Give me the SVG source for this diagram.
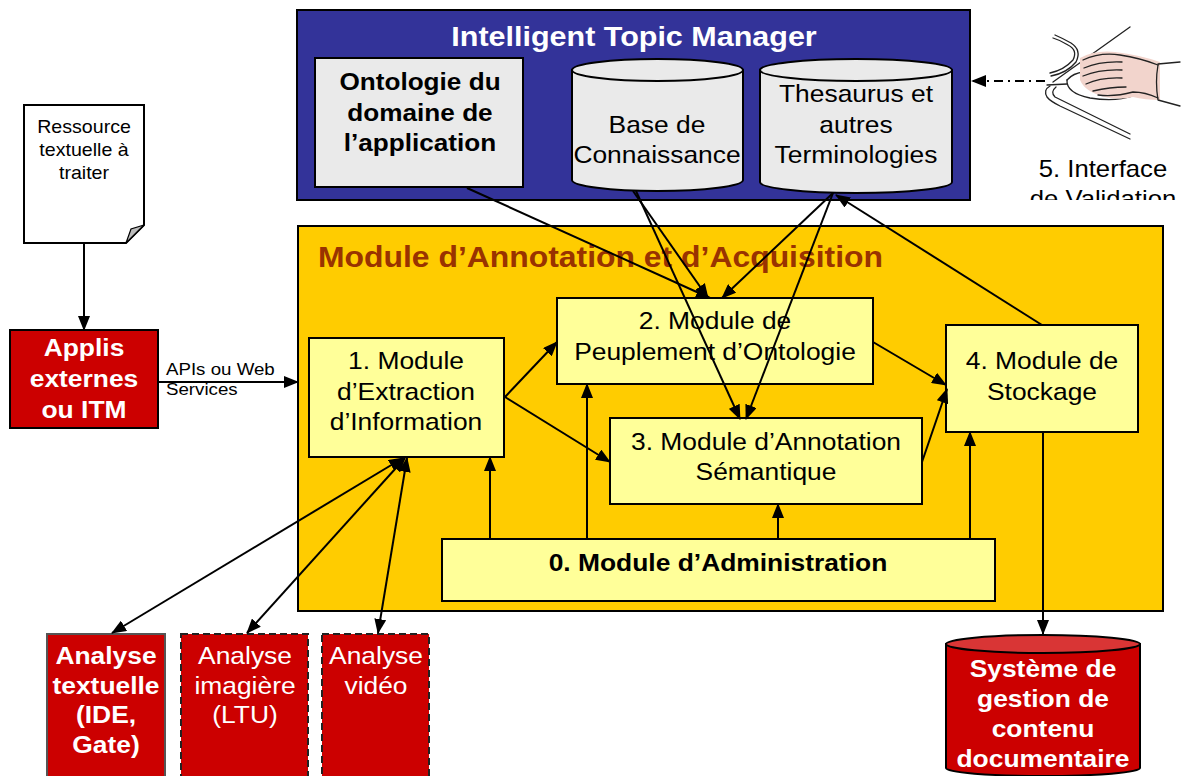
<svg xmlns="http://www.w3.org/2000/svg" width="1185" height="776" viewBox="0 0 1185 776">
  <style>
    text { font-family: "Liberation Sans", Arial, Helvetica, sans-serif; text-anchor: middle; }
    .t24 { font-size: 24px; fill: #000; }
    .b24 { font-size: 24px; font-weight: bold; fill: #000; }
    .w24 { font-size: 24px; font-weight: bold; fill: #fff; }
    .wn24 { font-size: 24px; fill: #fff; }
    .s18 { font-size: 18px; fill: #000; }
    .mod { fill: #ffff99; stroke: #000; stroke-width: 2; }
    .grey { fill: #eaeaea; stroke: #000; stroke-width: 2; }
    .red { fill: #cc0000; }
    .dash { fill: #cc0000; stroke: #222; stroke-width: 2; stroke-dasharray: 7 4; }
    .link { fill: none; stroke: #000; stroke-width: 2; }
    .hand { fill: none; stroke: #222; stroke-width: 1.3; stroke-linejoin: round; stroke-linecap: round; }
  </style>
  <defs>
    <marker id="arr" markerUnits="userSpaceOnUse" markerWidth="15" markerHeight="12" refX="14" refY="6" orient="auto">
      <path d="M0,0 L15,6 L0,12 Z" fill="#000"/>
    </marker>
    <marker id="arrStart" markerUnits="userSpaceOnUse" markerWidth="15" markerHeight="12" refX="1" refY="6" orient="auto">
      <path d="M15,0 L0,6 L15,12 Z" fill="#000"/>
    </marker>
    <clipPath id="clipLabel">
      <rect x="980" y="140" width="205" height="60"/>
    </clipPath>
  </defs>

  <rect width="1185" height="776" fill="#fff"/>

  <!-- Intelligent Topic Manager container -->
  <g id="itm">
    <rect x="297" y="10" width="673" height="190" fill="#333399" stroke="#000" stroke-width="2"/>
    <text transform="translate(634 46) scale(1.09 1)" style="font-size:28px;font-weight:bold;fill:#fff">Intelligent Topic Manager</text>
  </g>

  <g id="ontologie">
    <rect class="grey" x="315" y="58" width="208" height="129"/>
    <text class="b24" transform="translate(420 90) scale(1.09 1)"><tspan x="0">Ontologie du</tspan><tspan x="0" dy="31">domaine de</tspan><tspan x="0" dy="30">l’application</tspan></text>
  </g>

  <g id="base-connaissance">
    <path class="grey" d="M572,70 L572,180 A85.5,11 0 0 0 743,180 L743,70 Z"/>
    <ellipse class="grey" cx="657.5" cy="70" rx="85.5" ry="11"/>
    <text class="t24" transform="translate(657 133) scale(1.1 1)"><tspan x="0">Base de</tspan><tspan x="0" dy="30">Connaissance</tspan></text>
  </g>

  <g id="thesaurus">
    <path class="grey" d="M760,70 L760,182 A96,11 0 0 0 952,182 L952,70 Z"/>
    <ellipse class="grey" cx="856" cy="70" rx="96" ry="11"/>
    <text class="t24" transform="translate(856 102) scale(1.1 1)"><tspan x="0">Thesaurus et</tspan><tspan x="0" dy="31">autres</tspan><tspan x="0" dy="30">Terminologies</tspan></text>
  </g>

  <!-- Validation interface: hand resting on a mouse over a mouse pad -->
  <g id="interface-validation">
    <!-- mouse pad -->
    <path class="hand" d="M1053,82 L1130,27"/>
    <path class="hand" d="M1050,86 Q1043,90 1047,97 Q1050,101 1060,106 L1130,139"/>
    <path class="hand" d="M1056,87 Q1050,92 1055,97 L1130,134"/>
    <!-- cable -->
    <path class="hand" d="M1067,84 L1047,85"/>
    <path class="hand" d="M1050,73 Q1064,70 1073,60 Q1078,50 1068,45 Q1060,40 1053,38"/>
    <path class="hand" d="M1051,76 Q1067,73 1076,62 Q1082,50 1071,43 Q1062,38 1055,35"/>
    <!-- mouse -->
    <path class="hand" d="M1067,80 Q1066,93 1090,98 Q1115,102 1133,96"/>
    <path class="hand" d="M1067,80 Q1073,73 1084,72"/>
    <!-- hand -->
    <path d="M1080,58 Q1095,50 1115,52 Q1140,55 1160,62 L1160,100 Q1145,100 1133,97 Q1120,100 1105,97 Q1085,92 1080,80 Z" fill="#f2d4cc"/>
    <path class="hand" d="M1083,60 Q1100,52 1120,55 Q1140,58 1158,65"/>
    <path class="hand" d="M1084,68 Q1100,61 1122,62"/>
    <path class="hand" d="M1083,76 Q1100,69 1122,70"/>
    <path class="hand" d="M1086,84 Q1101,77 1122,78"/>
    <path class="hand" d="M1093,91 Q1110,87 1126,87"/>
    <path class="hand" d="M1098,95 Q1115,97 1133,92 Q1145,92 1158,98"/>
    <path class="hand" d="M1158,65 Q1155,82 1158,100 M1158,64 L1180,62 M1158,100 L1180,106"/>
    <g clip-path="url(#clipLabel)">
      <text class="t24" transform="translate(1103 177) scale(1.07 1)"><tspan x="0">5. Interface</tspan><tspan x="0" dy="30">de Validation</tspan></text>
    </g>
  </g>

  <!-- Annotation and acquisition container -->
  <g id="module-annotation-acquisition">
    <rect x="298" y="226" width="865" height="385" fill="#ffcc00" stroke="#000" stroke-width="2"/>
    <text transform="translate(318 267) scale(1.1 1)" style="font-size:29px;font-weight:bold;fill:#993300;text-anchor:start">Module d’Annotation et d’Acquisition</text>
  </g>

  <g id="module-1">
    <rect class="mod" x="309" y="338" width="195" height="119"/>
    <text class="t24" transform="translate(406 369) scale(1.1 1)"><tspan x="0">1. Module</tspan><tspan x="0" dy="31">d’Extraction</tspan><tspan x="0" dy="30">d’Information</tspan></text>
  </g>

  <g id="module-2">
    <rect class="mod" x="557" y="298" width="316" height="86"/>
    <text class="t24" transform="translate(715 329) scale(1.1 1)"><tspan x="0">2. Module de</tspan><tspan x="0" dy="31">Peuplement d’Ontologie</tspan></text>
  </g>

  <g id="module-3">
    <rect class="mod" x="610" y="418" width="312" height="86"/>
    <text class="t24" transform="translate(766 450) scale(1.1 1)"><tspan x="0">3. Module d’Annotation</tspan><tspan x="0" dy="30">Sémantique</tspan></text>
  </g>

  <g id="module-4">
    <rect class="mod" x="946" y="325" width="192" height="107"/>
    <text class="t24" transform="translate(1042 369) scale(1.1 1)"><tspan x="0">4. Module de</tspan><tspan x="0" dy="31">Stockage</tspan></text>
  </g>

  <g id="module-0">
    <rect class="mod" x="442" y="539" width="553" height="62"/>
    <text class="b24" transform="translate(718 571) scale(1.1 1)">0. Module d’Administration</text>
  </g>

  <g id="ressource">
    <path d="M24,105 H144 V225 L126,243 H24 Z" fill="#fff" stroke="#000" stroke-width="2"/>
    <path d="M126,243 L131,229 L144,225 Z" fill="#bbb" stroke="#000" stroke-width="1.2"/>
    <text class="s18" transform="translate(84 133) scale(1.09 1)"><tspan x="0">Ressource</tspan><tspan x="0" dy="23">textuelle à</tspan><tspan x="0" dy="23">traiter</tspan></text>
  </g>

  <g id="applis">
    <rect class="red" x="10" y="330" width="148" height="98" stroke="#000" stroke-width="2"/>
    <text class="w24" transform="translate(84 356) scale(1.1 1)"><tspan x="0">Applis</tspan><tspan x="0" dy="31">externes</tspan><tspan x="0" dy="31">ou ITM</tspan></text>
  </g>

  <g id="analyse-textuelle">
    <rect class="red" x="47" y="634" width="118" height="150" stroke="#555" stroke-width="2"/>
    <text class="w24" transform="translate(106 664) scale(1.1 1)"><tspan x="0">Analyse</tspan><tspan x="0" dy="30">textuelle</tspan><tspan x="0" dy="29">(IDE,</tspan><tspan x="0" dy="30">Gate)</tspan></text>
  </g>

  <g id="analyse-imagiere">
    <rect class="dash" x="181" y="634" width="127" height="150"/>
    <text class="wn24" transform="translate(245 664) scale(1.1 1)"><tspan x="0">Analyse</tspan><tspan x="0" dy="30">imagière</tspan><tspan x="0" dy="29">(LTU)</tspan></text>
  </g>

  <g id="analyse-video">
    <rect class="dash" x="322" y="634" width="107" height="150"/>
    <text class="wn24" transform="translate(376 664) scale(1.1 1)"><tspan x="0">Analyse</tspan><tspan x="0" dy="30">vidéo</tspan></text>
  </g>

  <g id="systeme-gestion">
    <path d="M946,644 L946,768 A97,8 0 0 0 1140,768 L1140,644 Z" fill="#cc0000" stroke="#000" stroke-width="2"/>
    <ellipse cx="1043" cy="644" rx="97" ry="9" fill="#d93535" stroke="#000" stroke-width="2"/>
    <text class="w24" transform="translate(1043 677) scale(1.1 1)"><tspan x="0">Système de</tspan><tspan x="0" dy="30">gestion de</tspan><tspan x="0" dy="30">contenu</tspan><tspan x="0" dy="30">documentaire</tspan></text>
  </g>

  <!-- Connectors -->
  <g id="connectors">
    <line class="link" x1="84" y1="243" x2="84" y2="330" marker-end="url(#arr)"/>
    <line class="link" x1="158" y1="382" x2="298" y2="382" marker-end="url(#arr)"/>
    <text transform="translate(166 375) scale(1.1 1)" style="font-size:17px;text-anchor:start"><tspan x="0">APIs ou Web</tspan><tspan x="0" dy="20">Services</tspan></text>

    <line class="link" x1="467" y1="188" x2="710" y2="298" marker-end="url(#arr)"/>
    <line class="link" x1="633" y1="191" x2="708" y2="298" marker-end="url(#arr)"/>
    <line class="link" x1="833" y1="193" x2="722" y2="298" marker-end="url(#arr)"/>
    <line class="link" x1="636" y1="191" x2="740" y2="419" marker-end="url(#arr)"/>
    <line class="link" x1="833" y1="193" x2="746" y2="419" marker-end="url(#arr)"/>
    <line class="link" x1="1042" y1="325" x2="836" y2="195" marker-end="url(#arr)"/>

    <line class="link" x1="505" y1="397" x2="557" y2="342" marker-end="url(#arr)"/>
    <line class="link" x1="505" y1="397" x2="610" y2="462" marker-end="url(#arr)"/>
    <line class="link" x1="873" y1="342" x2="946" y2="385" marker-end="url(#arr)"/>
    <line class="link" x1="922" y1="462" x2="947" y2="389" marker-end="url(#arr)"/>

    <line class="link" x1="490" y1="539" x2="490" y2="457" marker-end="url(#arr)"/>
    <line class="link" x1="587" y1="539" x2="587" y2="384" marker-end="url(#arr)"/>
    <line class="link" x1="778" y1="539" x2="778" y2="504" marker-end="url(#arr)"/>
    <line class="link" x1="970" y1="539" x2="970" y2="432" marker-end="url(#arr)"/>
    <line class="link" x1="1043" y1="432" x2="1043" y2="634" marker-end="url(#arr)"/>

    <line class="link" x1="403" y1="458" x2="112" y2="633" marker-start="url(#arrStart)" marker-end="url(#arr)"/>
    <line class="link" x1="405" y1="458" x2="247" y2="633" marker-start="url(#arrStart)" marker-end="url(#arr)"/>
    <line class="link" x1="407" y1="458" x2="378" y2="633" marker-start="url(#arrStart)" marker-end="url(#arr)"/>

    <line class="link" x1="1045" y1="81" x2="972" y2="81" stroke-dasharray="9 5 2 5" marker-end="url(#arr)"/>
  </g>
</svg>
